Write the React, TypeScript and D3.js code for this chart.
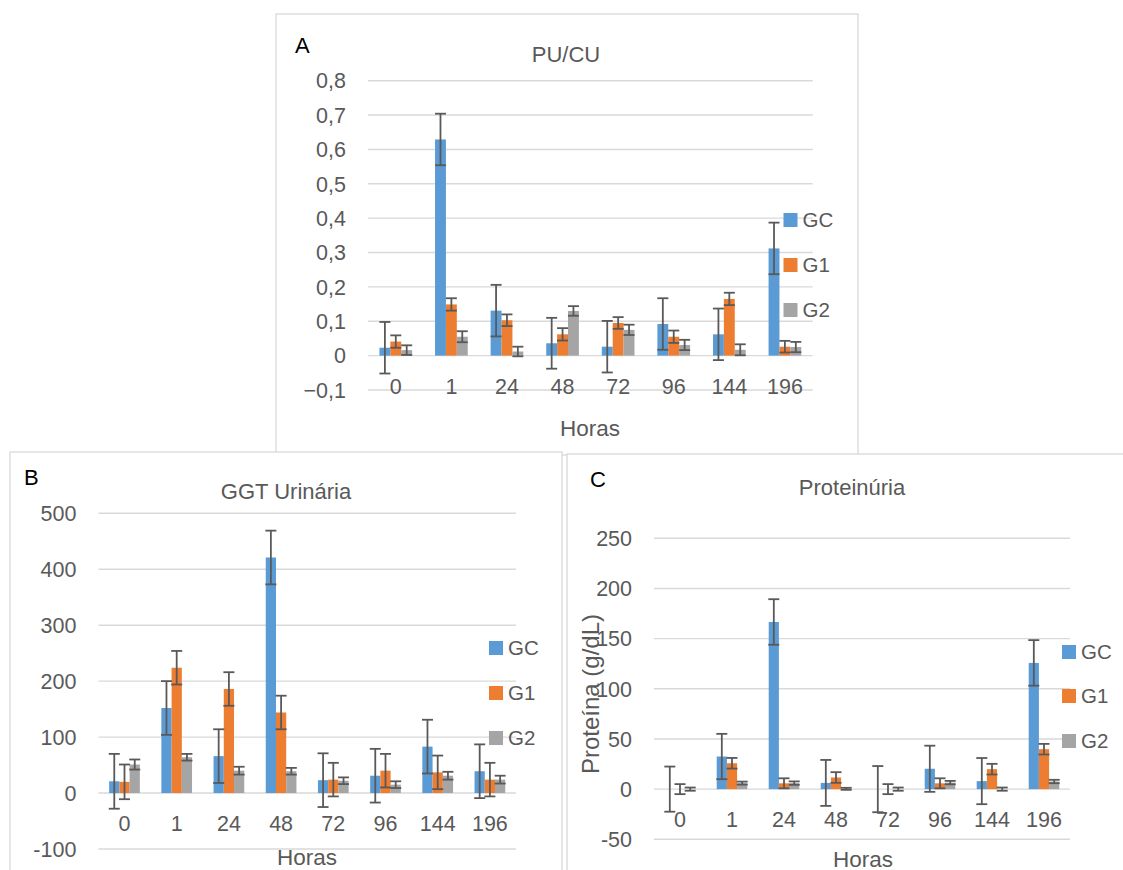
import React from 'react';
import * as d3 from 'd3';

// categories (hours) shared by the three panels
const horas = ['0', '1', '24', '48', '72', '96', '144', '196'];
const groups = ['GC', 'G1', 'G2'];

// A - PU/CU
const pucuGC = [0.023, 0.629, 0.131, 0.036, 0.026, 0.092, 0.062, 0.312];
const pucuG1 = [0.041, 0.149, 0.103, 0.062, 0.095, 0.055, 0.165, 0.026];
const pucuG2 = [0.016, 0.055, 0.012, 0.13, 0.075, 0.031, 0.017, 0.025];
const pucuErrGC = [0.075, 0.075, 0.075, 0.074, 0.075, 0.075, 0.075, 0.075];
const pucuErrG1 = [0.018, 0.018, 0.017, 0.018, 0.017, 0.018, 0.018, 0.017];
const pucuErrG2 = [0.014, 0.016, 0.014, 0.014, 0.015, 0.015, 0.016, 0.015];
const pucuTicks = [-0.1, 0, 0.1, 0.2, 0.3, 0.4, 0.5, 0.6, 0.7, 0.8];

// B - GGT Urinária
const ggtGC = [21, 152, 66, 421, 23, 31, 83, 39];
const ggtG1 = [20, 224, 186, 144, 24, 40, 37, 24];
const ggtG2 = [51, 64, 40, 39, 22, 15, 31, 24];
const ggtErrGC = [49, 48, 48, 48, 48, 48, 48, 48];
const ggtErrG1 = [31, 30, 30, 30, 30, 30, 30, 30];
const ggtErrG2 = [9, 6, 7, 6, 6, 6, 7, 7];
const ggtTicks = [-100, 0, 100, 200, 300, 400, 500];

// C - Proteinúria
const protGC = [0, 32.5, 166.6, 6.2, 0, 20.3, 8, 125.8];
const protG1 = [0, 25.8, 5.8, 11.6, 0, 5.8, 19.9, 39.8];
const protG2 = [0, 6, 6, 0.3, 0, 6.5, 0, 7.6];
const protErrGC = [22.5, 22.6, 22.7, 22.9, 23, 23, 23, 22.7];
const protErrG1 = [5, 5.3, 5, 5.3, 5, 5, 5.3, 5.3];
const protErrG2 = [1.6, 1.5, 1.7, 1, 1.6, 1.7, 1.6, 1.7];
const protTicks = [-50, 0, 50, 100, 150, 200, 250];

const colors = ['#5b9bd5', '#ed7d31', '#a5a5a5'];
const textColor = '#595959';
const font = '"Liberation Sans", Arial, sans-serif';

const fmtComma = (v) => d3.format('.1f')(v).replace('.', ',').replace(/^0,0$/, '0').replace(/^-0,0$/, '0');
const fmtInt = (v) => String(v);

function Panel({ cfg }) {
  const x = d3.scaleBand().domain(horas).range(cfg.plotX);
  const y = d3.scaleLinear().domain(cfg.domain).range(cfg.yRange);
  const bw = x.bandwidth() * 0.196;
  const sub = d3.scaleBand().domain(groups).range([-1.5 * bw, 1.5 * bw]);
  const y0 = y(0);

  return (
    <g fontFamily={font}>
      <rect x={cfg.box[0]} y={cfg.box[1]} width={cfg.box[2]} height={cfg.box[3]}
        fill="#fff" stroke="#d9d9d9" strokeWidth={1.3} />
      <text x={cfg.letter[0]} y={cfg.letter[1]} fontSize={22} fill="#000">{cfg.letter[2]}</text>
      <text x={cfg.title[0]} y={cfg.title[1]} fontSize={22} fill={textColor} textAnchor="middle">{cfg.title[2]}</text>

      {cfg.ticks.map((t) => (
        <g key={t}>
          <line x1={cfg.plotX[0]} x2={cfg.plotX[1]} y1={y(t)} y2={y(t)} stroke="#d9d9d9" strokeWidth={1.4} />
          <text x={cfg.plotX[0] - 22} y={y(t)} dy="0.36em" textAnchor="end" fontSize={21.5} fill={textColor}>
            {cfg.fmt(t)}
          </text>
        </g>
      ))}

      {cfg.values.map((vals, si) =>
        vals.map((v, i) => {
          const cx = x(horas[i]) + x.bandwidth() / 2 + sub(groups[si]);
          return (
            <rect key={`b${si}-${i}`} x={cx} y={Math.min(y(v), y0)} width={bw}
              height={Math.abs(y0 - y(v))} fill={colors[si]} />
          );
        })
      )}

      {cfg.values.map((vals, si) =>
        vals.map((v, i) => {
          const cx = x(horas[i]) + x.bandwidth() / 2 + sub(groups[si]) + bw / 2;
          const e = cfg.errs[si][i];
          const top = y(v + e);
          const bot = y(v - e);
          return (
            <g key={`e${si}-${i}`} stroke={textColor} strokeWidth={1.8}>
              <line x1={cx} x2={cx} y1={top} y2={bot} />
              <line x1={cx - 5.5} x2={cx + 5.5} y1={top} y2={top} />
              <line x1={cx - 5.5} x2={cx + 5.5} y1={bot} y2={bot} />
            </g>
          );
        })
      )}

      {horas.map((h) => (
        <text key={h} x={x(h) + x.bandwidth() / 2} y={y0 + 38} textAnchor="middle" fontSize={21.5} fill={textColor}>
          {h}
        </text>
      ))}

      <text x={cfg.horas[0]} y={cfg.horas[1]} textAnchor="middle" fontSize={22.5} fill={textColor}>Horas</text>

      {cfg.yTitle && (
        <text transform={`translate(${cfg.yTitle[0]},${cfg.yTitle[1]}) rotate(-90)`} textAnchor="middle"
          fontSize={24} fill={textColor}>
          {cfg.yTitle[2]}
        </text>
      )}

      {groups.map((g, i) => (
        <g key={g}>
          <rect x={cfg.legendX} y={cfg.legendY[i]} width={14} height={14} fill={colors[i]} />
          <text x={cfg.legendX + 19} y={cfg.legendY[i] + 7} dy="0.36em" fontSize={20.5} fill={textColor}>{g}</text>
        </g>
      ))}
    </g>
  );
}

const panelA = {
  box: [276, 14, 582, 441],
  letter: [295, 53, 'A'],
  title: [566, 62, 'PU/CU'],
  plotX: [368, 812.7],
  yRange: [390, 80.7],
  domain: [-0.1, 0.8],
  ticks: pucuTicks,
  fmt: fmtComma,
  values: [pucuGC, pucuG1, pucuG2],
  errs: [pucuErrGC, pucuErrG1, pucuErrG2],
  horas: [590, 436],
  legendX: 783.5,
  legendY: [213, 258, 303],
};

const panelB = {
  box: [10, 452, 552, 440],
  letter: [24, 485, 'B'],
  title: [286, 499, 'GGT Urinária'],
  plotX: [98.4, 516],
  yRange: [849, 513.3],
  domain: [-100, 500],
  ticks: ggtTicks,
  fmt: fmtInt,
  values: [ggtGC, ggtG1, ggtG2],
  errs: [ggtErrGC, ggtErrG1, ggtErrG2],
  horas: [307, 865],
  legendX: 489,
  legendY: [641, 686, 731],
};

const panelC = {
  box: [567, 454, 570, 440],
  letter: [590, 487, 'C'],
  title: [852, 495, 'Proteinúria'],
  plotX: [654, 1070],
  yRange: [839.3, 538.3],
  domain: [-50, 250],
  ticks: protTicks,
  fmt: fmtInt,
  values: [protGC, protG1, protG2],
  errs: [protErrGC, protErrG1, protErrG2],
  horas: [863, 867],
  yTitle: [599, 694, 'Proteína (g/dL)'],
  legendX: 1062,
  legendY: [645, 689, 734],
};

export default function App() {
  return (
    <div style={{ position: 'absolute', left: 0, top: 0 }}>
      <svg width={1123} height={870} style={{ display: 'block', background: '#fff' }}>
        <Panel cfg={panelA} />
        <Panel cfg={panelB} />
        <Panel cfg={panelC} />
      </svg>
    </div>
  );
}
